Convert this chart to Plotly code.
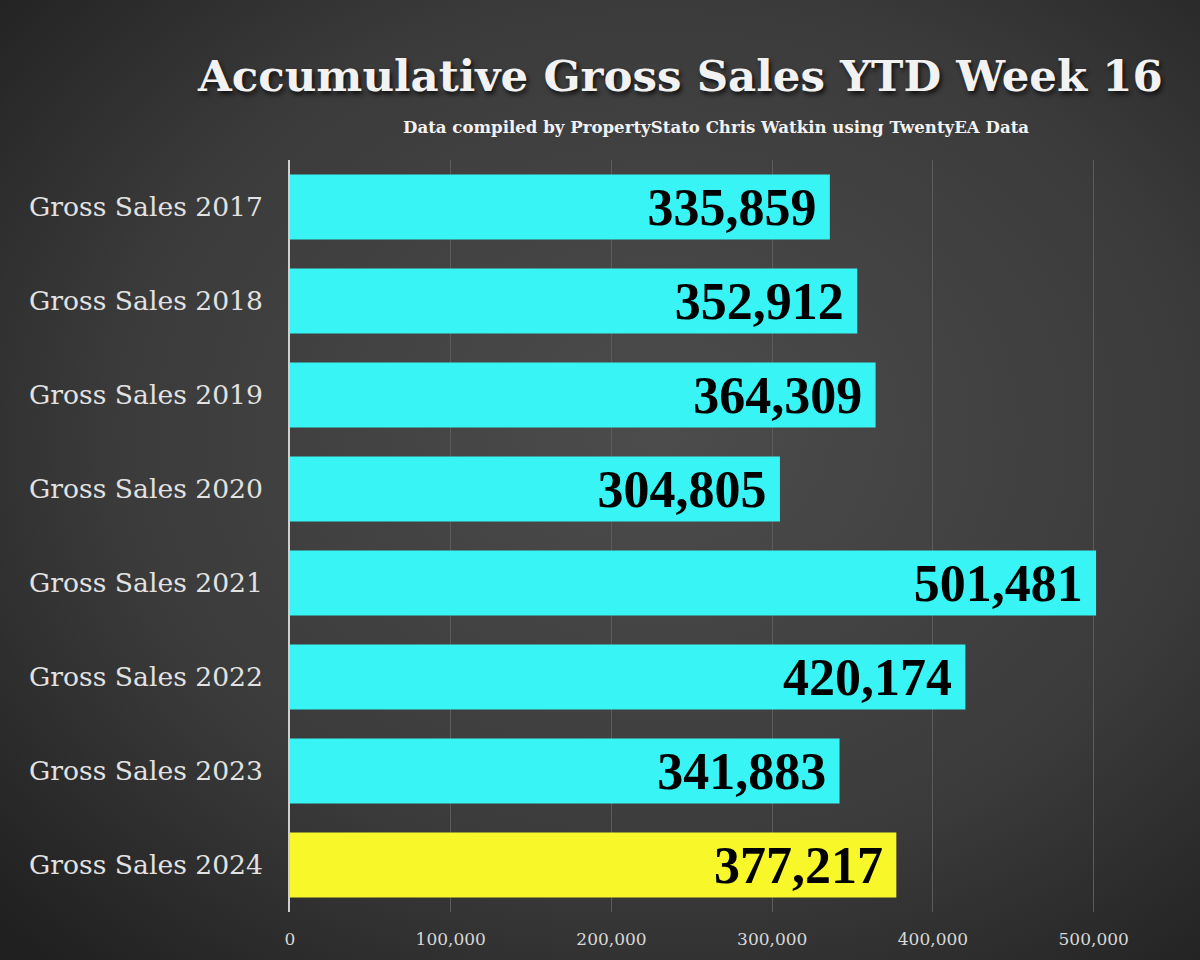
import base64
import plotly.graph_objects as go

categories = ["Gross Sales 2017", "Gross Sales 2018", "Gross Sales 2019", "Gross Sales 2020",
              "Gross Sales 2021", "Gross Sales 2022", "Gross Sales 2023", "Gross Sales 2024"]
values = [335859, 352912, 364309, 304805, 501481, 420174, 341883, 377217]
x_ticks = [0, 100000, 200000, 300000, 400000, 500000]
x_tick_labels = ["0", "100,000", "200,000", "300,000", "400,000", "500,000"]

title_text = "Accumulative Gross Sales YTD Week 16"
subtitle_text = "Data compiled by PropertyStato Chris Watkin using TwentyEA Data"

CYAN = "#38F4F4"
YELLOW = "#F7F72A"
colors = [CYAN] * (len(values) - 1) + [YELLOW]

svg = """<svg xmlns='http://www.w3.org/2000/svg' width='1200' height='960'>
<defs><radialGradient id='g' cx='0.55' cy='0.45' r='0.75'>
<stop offset='0' stop-color='#4c4c4c'/><stop offset='0.6' stop-color='#3b3b3b'/>
<stop offset='1' stop-color='#202020'/></radialGradient></defs>
<rect width='1200' height='960' fill='url(#g)'/></svg>"""
bg_src = "data:image/svg+xml;base64," + base64.b64encode(svg.encode()).decode()

W, H = 1200, 960
ML, MR, MT, MB = 290, 42, 160, 48
pw = W - ML - MR
ph = H - MT - MB

fig = go.Figure()
fig.add_trace(go.Bar(
    y=categories, x=values, orientation="h",
    marker=dict(color=colors, line=dict(width=0)),
    text=[f"{v:,}\u2009" for v in values],
    textposition="inside", insidetextanchor="end",
    textfont=dict(family="Liberation Serif", size=52, color="black", weight="bold"),
    cliponaxis=False,
    hoverinfo="skip",
))

fig.update_layout(
    width=W, height=H,
    margin=dict(l=ML, r=MR, t=MT, b=MB),
    paper_bgcolor="#333333",
    plot_bgcolor="rgba(0,0,0,0)",
    bargap=0.31,
    showlegend=False,
    images=[dict(source=bg_src, xref="paper", yref="paper",
                 x=-ML / pw, y=1 + MT / ph, sizex=W / pw, sizey=H / ph,
                 sizing="stretch", layer="below", xanchor="left", yanchor="top")],
    xaxis=dict(
        range=[0, 540000], tickvals=x_ticks, ticktext=x_tick_labels,
        showgrid=True, gridcolor="#5c5c5c", gridwidth=1,
        zeroline=False, showline=False, ticks="",
        ticklabelstandoff=15,
        tickfont=dict(family="DejaVu Serif", size=17, color="#d8d8d8"),
    ),
    yaxis=dict(
        categoryorder="array", categoryarray=categories, autorange="reversed",
        showgrid=False, zeroline=False,
        showline=True, linecolor="#cfcfcf", linewidth=1.5,
        ticks="", ticklabelstandoff=20,
        tickfont=dict(family="DejaVu Serif", size=26.6, color="#e2e2e2"),
    ),
    annotations=[
        dict(text=title_text, xref="paper", yref="paper",
             x=(680 - ML) / pw, y=1 + (MT - 75) / ph, xanchor="center", yanchor="middle",
             showarrow=False,
             font=dict(family="DejaVu Serif", size=43.5, color="#f2f2f2", weight="bold",
                       shadow="2px 3px 4px #111111")),
        dict(text=subtitle_text, xref="paper", yref="paper",
             x=(716 - ML) / pw, y=1 + (MT - 127) / ph, xanchor="center", yanchor="middle",
             showarrow=False,
             font=dict(family="DejaVu Serif", size=16.6, color="#f2f2f2", weight="bold")),
    ],
)

fig.write_html("out.html", config={"displayModeBar": False},
               post_script="document.body.style.margin='0';")
